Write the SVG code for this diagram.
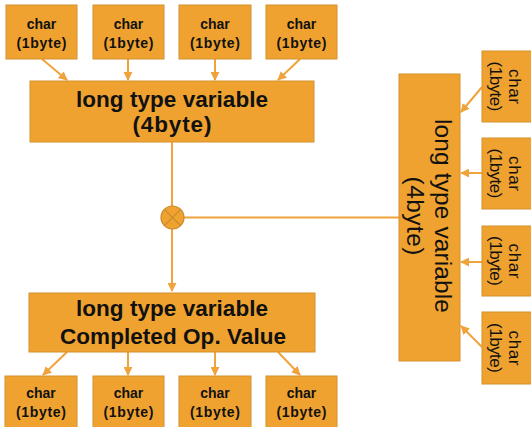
<svg xmlns="http://www.w3.org/2000/svg" width="531" height="427" viewBox="0 0 531 427">
<style>
.box{fill:#EFA22F;stroke:#D4922E;stroke-width:1}
.ln{stroke:#F0A33A;stroke-width:2;fill:none}
.t{font-family:"Liberation Sans",Arial,sans-serif;fill:#111;text-anchor:middle}
.b{font-weight:bold}
.c{font-size:14px}
.m{font-size:22.5px}
.mr{font-size:24.5px}
.r{font-size:17px}
</style>
<defs>
<marker id="ah" viewBox="0 0 10 10" refX="9" refY="5" markerWidth="4.5" markerHeight="4.5" orient="auto" markerUnits="strokeWidth">
<path d="M0,0 L10,5 L0,10 z" fill="#F0A33A"/>
</marker>
</defs>
<rect width="531" height="427" fill="#fff"/>
<g id="connectors">
<line class="ln" x1="42" y1="59" x2="67" y2="80" marker-end="url(#ah)"/>
<line class="ln" x1="128" y1="59" x2="128" y2="80" marker-end="url(#ah)"/>
<line class="ln" x1="215" y1="59" x2="215" y2="80" marker-end="url(#ah)"/>
<line class="ln" x1="300" y1="59" x2="278" y2="80" marker-end="url(#ah)"/>
<line class="ln" x1="172" y1="142" x2="172" y2="206"/>
<line class="ln" x1="184" y1="217.5" x2="399" y2="217.5"/>
<line class="ln" x1="172" y1="229" x2="172" y2="291" marker-end="url(#ah)"/>
<line class="ln" x1="482" y1="87" x2="461" y2="112" marker-end="url(#ah)"/>
<line class="ln" x1="482" y1="173" x2="461" y2="173" marker-end="url(#ah)"/>
<line class="ln" x1="482" y1="262" x2="461" y2="262" marker-end="url(#ah)"/>
<line class="ln" x1="482" y1="347" x2="461" y2="326" marker-end="url(#ah)"/>
<line class="ln" x1="67" y1="352" x2="43" y2="375" marker-end="url(#ah)"/>
<line class="ln" x1="128" y1="352" x2="128" y2="375" marker-end="url(#ah)"/>
<line class="ln" x1="215" y1="352" x2="215" y2="375" marker-end="url(#ah)"/>
<line class="ln" x1="278" y1="352" x2="300" y2="375" marker-end="url(#ah)"/>
</g>
<g id="mult">
<circle cx="172.5" cy="217.5" r="11.5" fill="#EFA22F" stroke="#C98A2C" stroke-width="1.2"/>
<path d="M164.4,209.4 L180.6,225.6 M180.6,209.4 L164.4,225.6" stroke="#C98A2C" stroke-width="1.2"/>
</g>
<g id="top-char1"><rect class="box" x="6" y="5" width="71" height="54"/><text class="t b c" x="41.5" y="29">char</text><text class="t b c" x="41.5" y="48" textLength="50">(1byte)</text></g>
<g id="top-char2"><rect class="box" x="93" y="5" width="71" height="54"/><text class="t b c" x="128.5" y="29">char</text><text class="t b c" x="128.5" y="48" textLength="50">(1byte)</text></g>
<g id="top-char3"><rect class="box" x="179" y="5" width="72" height="54"/><text class="t b c" x="215" y="29">char</text><text class="t b c" x="215" y="48" textLength="50">(1byte)</text></g>
<g id="top-char4"><rect class="box" x="266" y="5" width="71" height="54"/><text class="t b c" x="301.5" y="29">char</text><text class="t b c" x="301.5" y="48" textLength="50">(1byte)</text></g>
<g id="long-top"><rect class="box" x="30" y="81" width="284" height="61"/><text class="t b m" x="172" y="107" textLength="192">long type variable</text><text class="t b m" x="172" y="132" textLength="79">(4byte)</text></g>
<g id="long-right"><rect class="box" x="399" y="74" width="61" height="287"/>
<g transform="translate(429.5,216) rotate(90)"><text class="t mr" x="0" y="-5.5" textLength="194">long type variable</text><text class="t mr" x="0" y="22.5" textLength="79">(4byte)</text></g></g>
<g id="right-char1"><rect class="box" x="482" y="51" width="60" height="71"/><g transform="translate(505.5,86.5) rotate(90)"><text class="t r" x="0" y="-3.5" textLength="35">char</text><text class="t r" x="0" y="15.5" textLength="50">(1byte)</text></g></g>
<g id="right-char2"><rect class="box" x="482" y="138" width="60" height="71"/><g transform="translate(505.5,173.5) rotate(90)"><text class="t r" x="0" y="-3.5" textLength="35">char</text><text class="t r" x="0" y="15.5" textLength="50">(1byte)</text></g></g>
<g id="right-char3"><rect class="box" x="482" y="226" width="60" height="70"/><g transform="translate(505.5,261) rotate(90)"><text class="t r" x="0" y="-3.5" textLength="35">char</text><text class="t r" x="0" y="15.5" textLength="50">(1byte)</text></g></g>
<g id="right-char4"><rect class="box" x="482" y="312" width="60" height="72"/><g transform="translate(505.5,348) rotate(90)"><text class="t r" x="0" y="-3.5" textLength="35">char</text><text class="t r" x="0" y="15.5" textLength="50">(1byte)</text></g></g>
<g id="long-bottom"><rect class="box" x="29" y="293" width="286" height="59"/><text class="t b m" x="172" y="316" textLength="192">long type variable</text><text class="t b m" x="173" y="344" textLength="226">Completed Op. Value</text></g>
<g id="bot-char1"><rect class="box" x="5" y="376" width="72" height="60"/><text class="t b c" x="41" y="398">char</text><text class="t b c" x="41" y="417" textLength="50">(1byte)</text></g>
<g id="bot-char2"><rect class="box" x="93" y="376" width="71" height="60"/><text class="t b c" x="128.5" y="398">char</text><text class="t b c" x="128.5" y="417" textLength="50">(1byte)</text></g>
<g id="bot-char3"><rect class="box" x="179" y="376" width="72" height="60"/><text class="t b c" x="215" y="398">char</text><text class="t b c" x="215" y="417" textLength="50">(1byte)</text></g>
<g id="bot-char4"><rect class="box" x="266" y="376" width="71" height="60"/><text class="t b c" x="301.5" y="398">char</text><text class="t b c" x="301.5" y="417" textLength="50">(1byte)</text></g>
</svg>
